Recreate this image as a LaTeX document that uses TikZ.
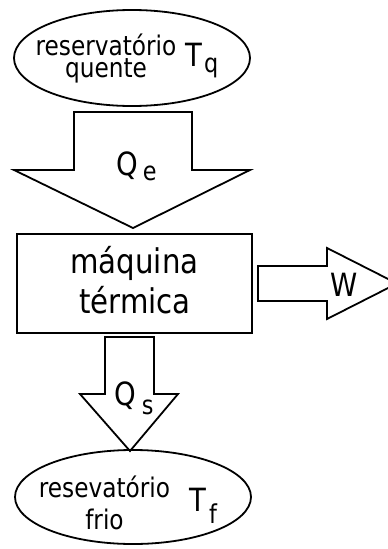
\documentclass[tikz,border=0pt]{standalone}
\usepackage{fontspec}
\setmainfont{DejaVu Sans}[FakeStretch=0.86]
\usetikzlibrary{shapes.geometric}
\tikzset{
  outline/.style={draw=black, line width=1.8pt, line join=miter, fill=white},
  res/.style={ellipse, draw=black, line width=1.8pt, minimum width=236pt, minimum height=96pt, inner sep=0pt},
  lbl/.style={inner sep=0pt, align=center, anchor=center},
  big/.style={inner sep=0pt, anchor=base, font=\fontsize{34}{34}\selectfont},
  qsym/.style={inner sep=0pt, anchor=base west, font=\fontsize{32}{32}\selectfont},
  tsym/.style={inner sep=0pt, anchor=base west, font=\fontsize{32}{32}\selectfont},
  wsym/.style={inner sep=0pt, anchor=base west, font=\fontsize{32}{32}\selectfont},
}
\newcommand{\lowsub}[3]{\raisebox{#1}{\fontsize{#2}{#2}\selectfont #3}}
\begin{document}
\begin{tikzpicture}[x=1pt,y=-1pt]
\clip (0,0) rectangle (388,549);
% hot reservoir
\node[res] (hot) at (132,58) {};
\node[lbl, font=\fontsize{27}{22.5}\selectfont] (hottext) at (106,58.5) {reservatório\\quente};
\node[tsym] (Tq) at (185,66) {T\hspace{2pt}\lowsub{-6pt}{26}{q}};
% Qe arrow
\draw[outline] (74,112) -- (192,112) -- (192,170) -- (250,170) -- (133,228) -- (14,170) -- (74,170) -- cycle;
\node[qsym] (Qe) at (116,175) {Q\hspace{5pt}\lowsub{-5pt}{26}{e}};
% engine
\node[draw=black, line width=1.8pt, minimum width=235pt, minimum height=99pt, inner sep=0pt] (eng) at (134.5,283.5) {};
\node[big] (eng1) at (134.5,273) {máquina};
\node[big] (eng2) at (135,313) {térmica};
% W arrow
\draw[outline] (258,266) -- (327,266) -- (327,248) -- (397,283.5) -- (327,319) -- (327,301) -- (258,301) -- cycle;
\node[wsym] (W) at (330,296) {W};
% Qs arrow
\draw[outline] (105,337) -- (154,337) -- (154,394) -- (178,394) -- (130,451) -- (80,394) -- (105,394) -- cycle;
\node[qsym] (Qs) at (114,405) {Q\hspace{6pt}\lowsub{-9pt}{26}{s}};
% cold reservoir
\node[res, minimum height=94pt] (cold) at (133,497) {};
\node[lbl, font=\fontsize{27}{32}\selectfont] (coldtext) at (104.5,503) {resevatório\\frio};
\node[tsym] (Tf) at (189,511) {T\hspace{3pt}\lowsub{-12pt}{26}{f}};
\end{tikzpicture}
\end{document}
